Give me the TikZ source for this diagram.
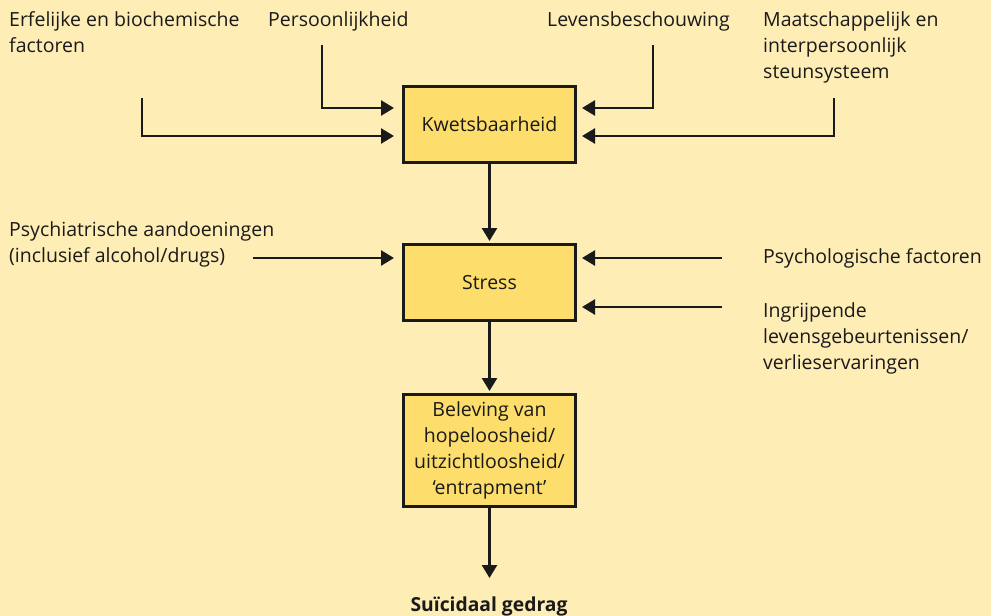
\documentclass[tikz,border=0pt]{standalone}
\usepackage{fontspec}
\setmainfont{Open Sans}
\usetikzlibrary{arrows.meta}
\definecolor{bg}{HTML}{FEEDB4}
\definecolor{boxfill}{HTML}{FDDD6B}
\definecolor{ink}{HTML}{1A1A1A}
\begin{document}
\begin{tikzpicture}[x=1pt,y=-1pt,
  txt/.style={font=\fontsize{19.5}{26}\selectfont, text=ink},
  box/.style={txt, draw=ink, line width=2.6pt, fill=boxfill, minimum width=172.4pt, minimum height=76.4pt, inner sep=0pt, align=center},
  lbl/.style={txt, anchor=north west, inner sep=0pt, align=left},
  arr/.style={draw=ink, line width=2.6pt, -{Triangle[length=13pt,width=15pt]}}]
\fill[bg] (0,0) rectangle (991,616);
\useasboundingbox (0,0) rectangle (991,616);
% boxes
\node[box] (K) at (489.5,124.5) {Kwetsbaarheid};
\node[box] (S) at (489.5,282.5) {Stress};
\node[box, minimum height=112.4pt] (B) at (489.5,450.5) {Beleving van\\hopeloosheid/\\uitzichtloosheid/\\‘entrapment’};
% labels
\node[lbl] (erf) at (9,11.2) {Erfelijke en biochemische\\factoren};
\node[lbl] (per) at (268,11.2) {Persoonlijkheid};
\node[lbl] (lev) at (547,11.2) {Levensbeschouwing};
\node[lbl] (maa) at (763,11.2) {Maatschappelijk en\\interpersoonlijk\\steunsysteem};
\node[lbl] (psa) at (9,221.2) {Psychiatrische aandoeningen\\(inclusief alcohol/drugs)};
\node[lbl] (psf) at (763,248.2) {Psychologische factoren};
\node[lbl] (ing) at (763,302.2) {Ingrijpende\\levensgebeurtenissen/\\verlieservaringen};
\node[txt, anchor=base, inner sep=0pt, font=\fontsize{19.3}{26}\selectfont\bfseries] (sui) at (489,611.5) {Suïcidaal gedrag};
% free ends
\coordinate (e0) at (142,98);
\coordinate (eT) at (394,136);
\coordinate (p0) at (322,45);
\coordinate (pT) at (394,108);
\coordinate (l0) at (653,45);
\coordinate (lT) at (582,108);
\coordinate (m0) at (834,98);
\coordinate (mT) at (582,136);
\coordinate (a0) at (253,258);
\coordinate (aT) at (394,258);
\coordinate (f0) at (722,258);
\coordinate (fT) at (582,258);
\coordinate (g0) at (722,307);
\coordinate (gT) at (582,307);
\coordinate (sT) at (489.5,578);
% connectors
\draw[arr] (e0) |- (eT);
\draw[arr] (p0) |- (pT);
\draw[arr] (l0) |- (lT);
\draw[arr] (m0) |- (mT);
\draw[arr] (a0) -- (aT);
\draw[arr] (f0) -- (fT);
\draw[arr] (g0) -- (gT);
\draw[arr, shorten >=2pt] (K) -- (S);
\draw[arr, shorten >=2pt] (S) -- (B);
\draw[arr] (B) -- (sT);
\end{tikzpicture}
\end{document}
